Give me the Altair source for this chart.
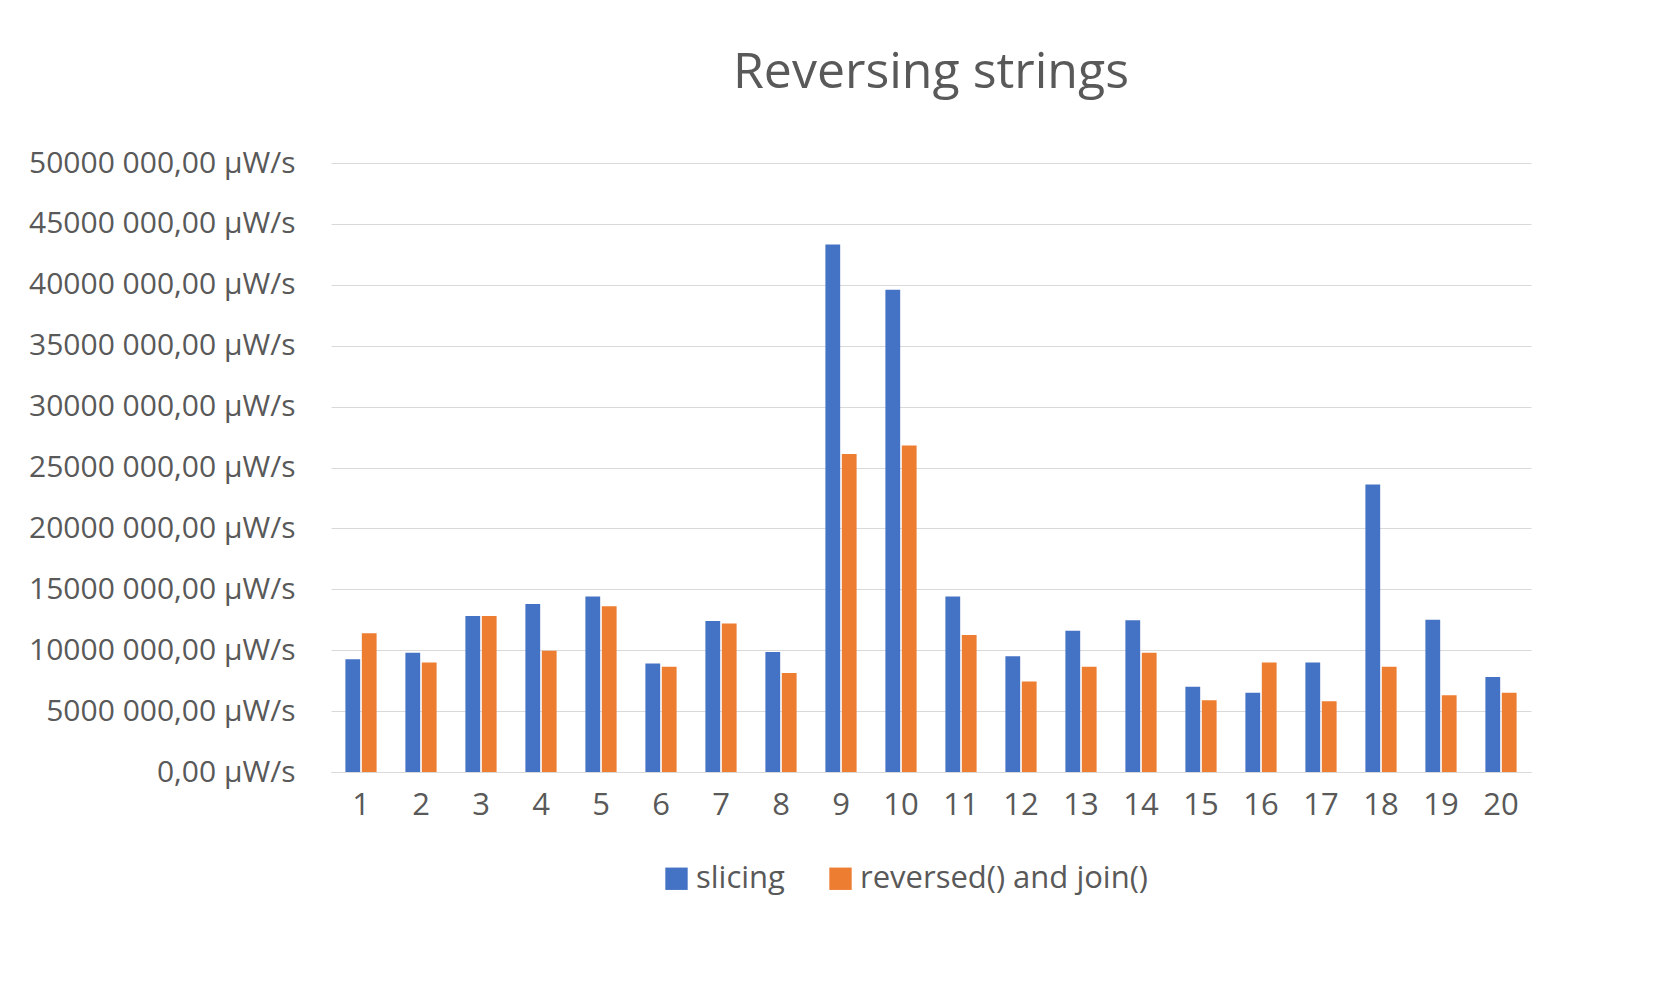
import altair as alt
import pandas as pd

runs = [str(i) for i in range(1, 21)]
slicing = [9.26, 9.8, 12.8, 13.8, 14.4, 8.9, 12.4, 9.86, 43.3, 39.6, 14.4, 9.5, 11.6, 12.45, 7.0, 6.5, 9.0, 23.6, 12.5, 7.8]
reversed_join = [11.4, 9.0, 12.8, 9.95, 13.6, 8.65, 12.2, 8.13, 26.1, 26.8, 11.25, 7.44, 8.65, 9.8, 5.9, 9.0, 5.8, 8.65, 6.3, 6.5]
series = ["slicing", "reversed() and join()"]

rows = []
for r, a, b in zip(runs, slicing, reversed_join):
    rows.append({"run": r, "series": series[0], "value": a * 1e6})
    rows.append({"run": r, "series": series[1], "value": b * 1e6})
df = pd.DataFrame(rows)

font = "Open Sans"
chart = alt.Chart(df).mark_bar().encode(
    x=alt.X("run:N", sort=runs, title=None,
            scale=alt.Scale(paddingInner=0.48, paddingOuter=0.24),
            axis=alt.Axis(labelAngle=0, labelFontSize=31, labelColor="#595959", labelFont=font,
                          domainColor="#d9d9d9", ticks=False, labelPadding=18)),
    xOffset=alt.XOffset("series:N", sort=series, scale=alt.Scale(paddingInner=0.1)),
    y=alt.Y("value:Q", title=None,
            scale=alt.Scale(domain=[0, 50e6]),
            axis=alt.Axis(values=[i * 5e6 for i in range(11)], labelFontSize=30, labelColor="#595959",
                          labelFont=font, domain=False, ticks=False, gridColor="#d9d9d9", labelPadding=36,
                          labelLimit=0,
                          labelExpr="datum.value == 0 ? '0,00 µW/s' : format(datum.value/1000, 'd') + ' 000,00 µW/s'")),
    color=alt.Color("series:N", sort=series,
                    scale=alt.Scale(domain=series, range=["#4472C4", "#ED7D31"]),
                    legend=alt.Legend(orient="none", legendX=330, legendY=700, direction="horizontal",
                                      title=None, labelFontSize=31, labelColor="#595959",
                                      labelFont=font, symbolType="square", symbolSize=500, labelLimit=0,
                                      columnPadding=40)),
).properties(
    width=1200, height=609,
    title=alt.TitleParams("Reversing strings", fontSize=50, color="#595959", font=font,
                          fontWeight="normal", offset=50),
).configure(background="white", padding={"left": 20, "top": 40, "right": 30, "bottom": 20}
).configure_view(strokeWidth=0, stroke="transparent")

chart.save("out.html", embed_options={"renderer": "svg", "actions": False})
